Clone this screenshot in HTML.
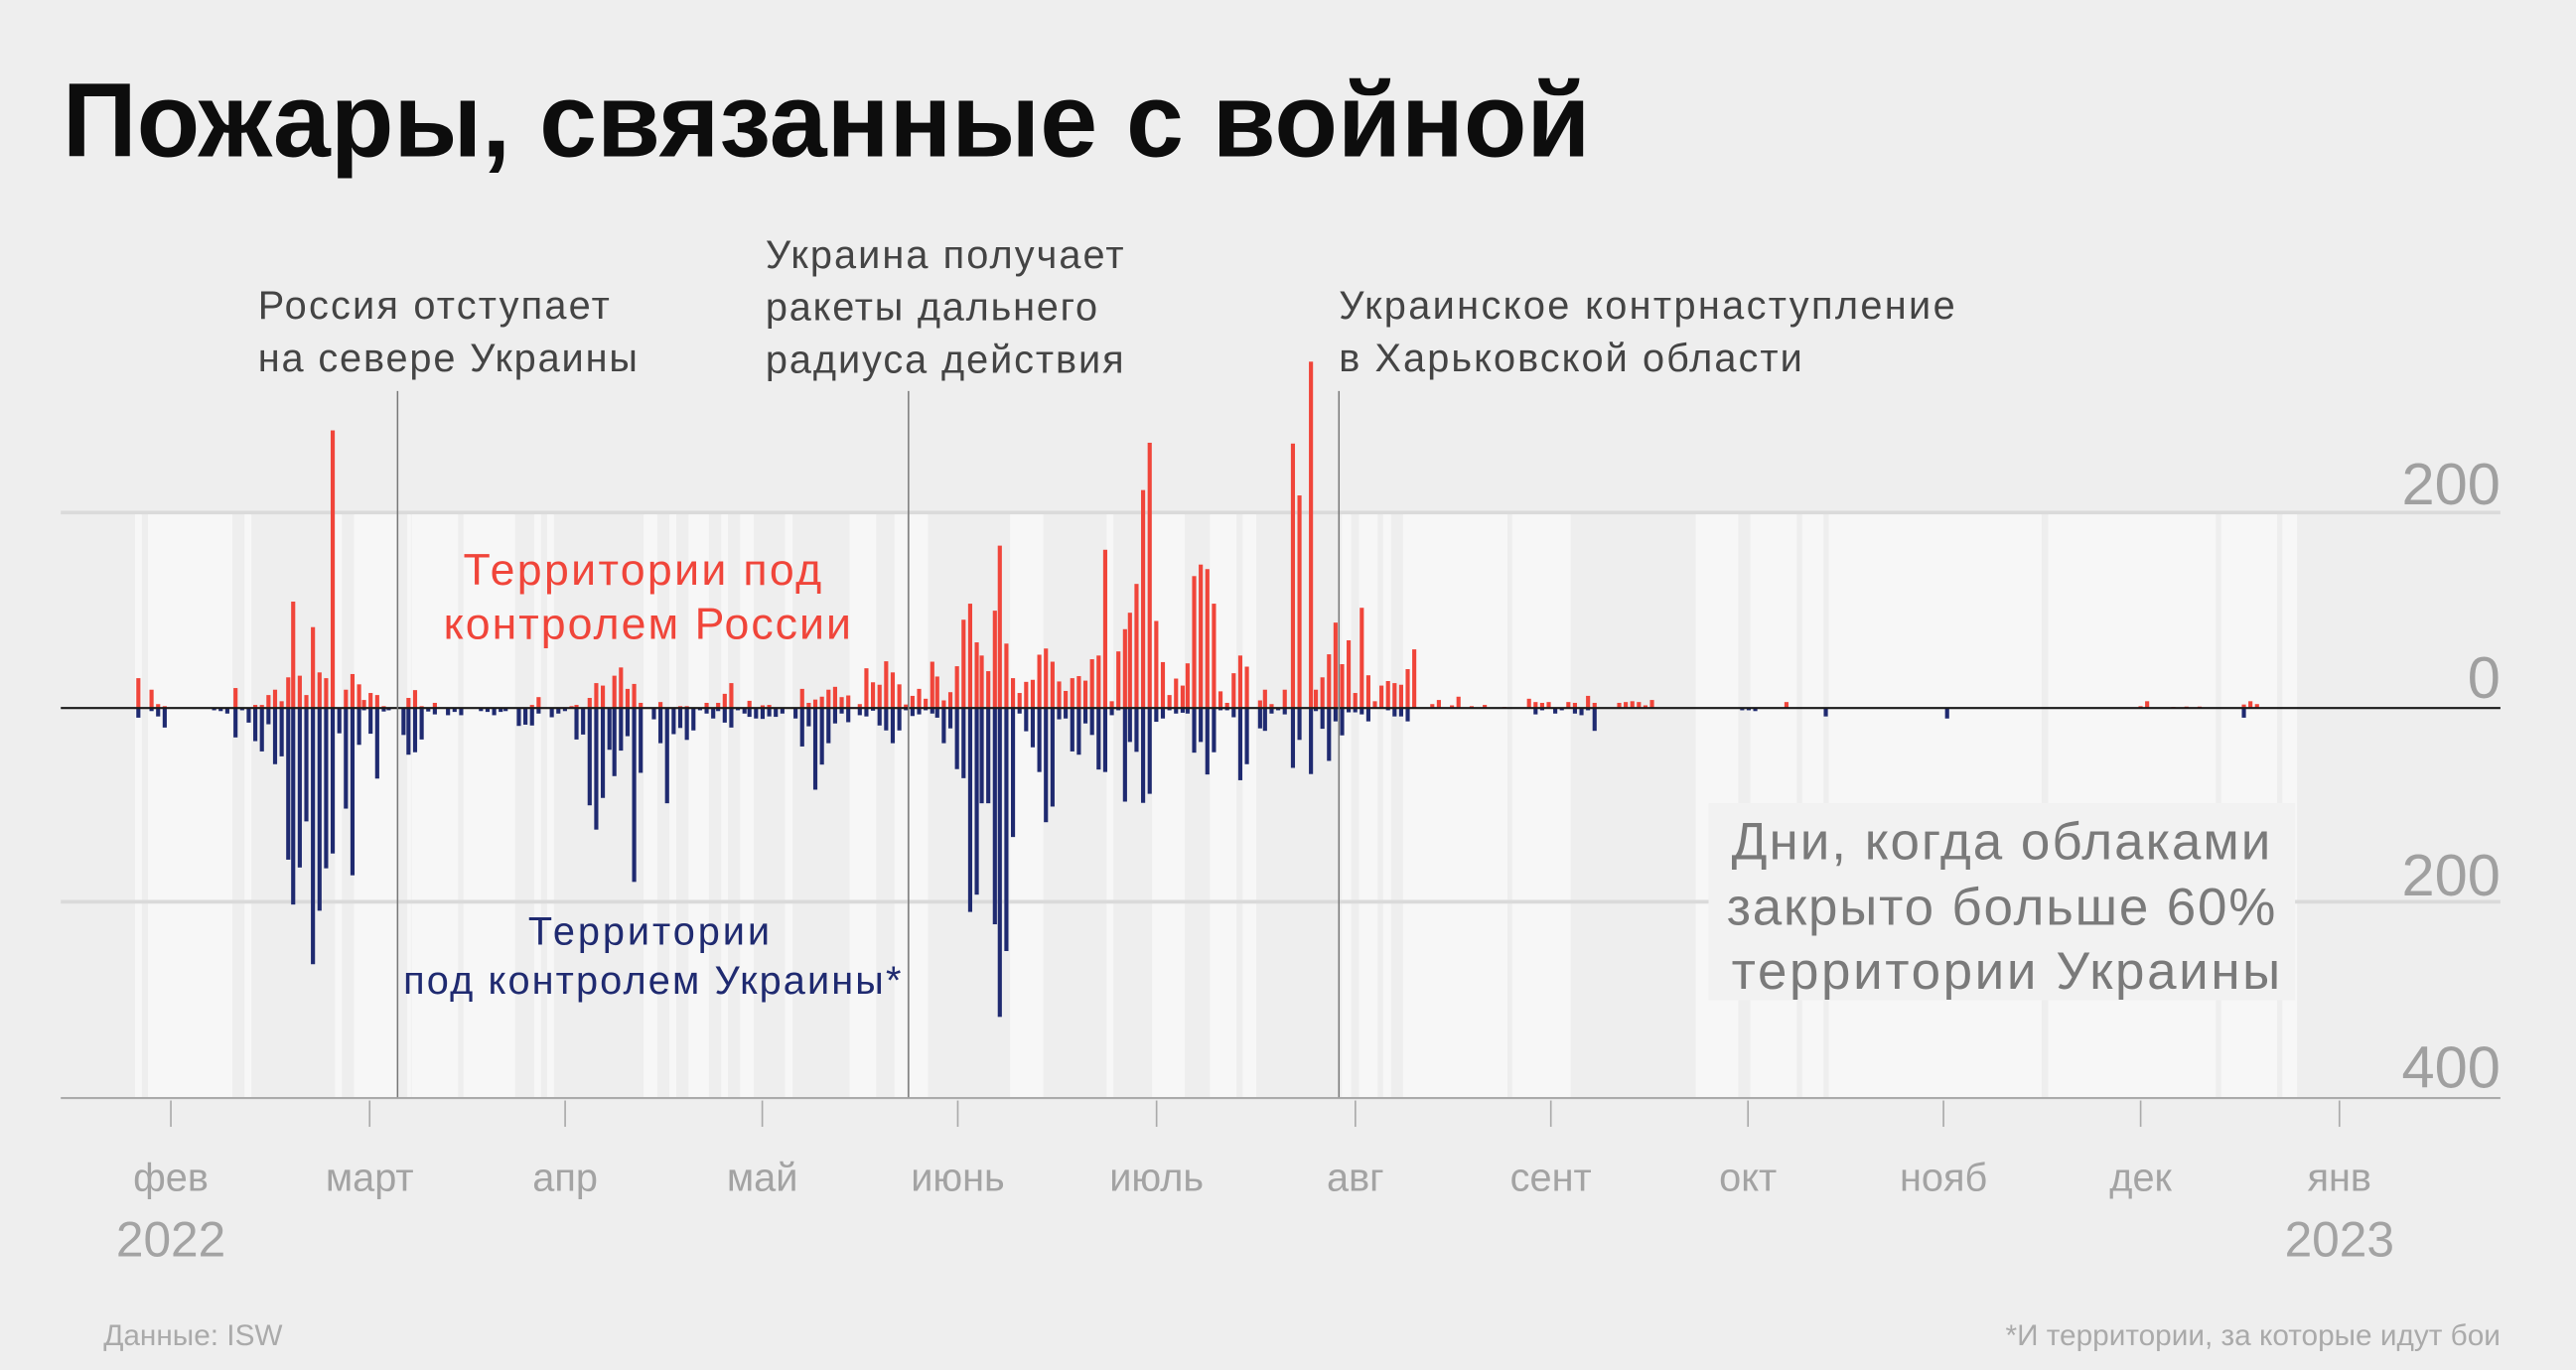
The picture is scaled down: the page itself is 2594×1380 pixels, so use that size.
<!DOCTYPE html>
<html><head><meta charset="utf-8"><style>
html,body{margin:0;padding:0;background:#eeeeee;}
svg{display:block;}
text{font-family:"Liberation Sans","DejaVu Sans",sans-serif;}
</style></head><body>
<svg width="2594" height="1380" viewBox="0 0 1568 834" xmlns="http://www.w3.org/2000/svg">
<rect x="0" y="0" width="1568" height="834" fill="#eeeeee"/>
<!-- light bands -->
<g transform="translate(60.46,0) scale(0.4627,1)" fill="#f7f7f7">
<rect x="47" y="312" width="9" height="356"/><rect x="64" y="312" width="111" height="356"/><rect x="191" y="312" width="9" height="356"/>
<rect x="310" y="312" width="9" height="356"/><rect x="335" y="312" width="56" height="356"/><rect x="405" y="312" width="5" height="356"/>
<rect x="411" y="312" width="61" height="356"/><rect x="479" y="312" width="68" height="356"/><rect x="572" y="312" width="9" height="356"/>
<rect x="589" y="312" width="9" height="356"/><rect x="716" y="312" width="18" height="356"/><rect x="750" y="312" width="9" height="356"/>
<rect x="775" y="312" width="27" height="356"/><rect x="818" y="312" width="9" height="356"/><rect x="843" y="312" width="18" height="356"/>
<rect x="902" y="312" width="10" height="356"/><rect x="987" y="312" width="35" height="356"/><rect x="1046" y="312" width="16" height="356"/>
<rect x="1066" y="312" width="24" height="356"/><rect x="1198" y="312" width="44" height="356"/><rect x="1325" y="312" width="9" height="356"/>
<rect x="1385" y="312" width="43" height="356"/><rect x="1461" y="312" width="35" height="356"/><rect x="1504" y="312" width="18" height="356"/>
</g>
<g transform="translate(786,0) scale(0.4049,1)" fill="#f7f7f7">
<rect x="76" y="312" width="14" height="356"/><rect x="102" y="312" width="28" height="356"/><rect x="138" y="312" width="12" height="356"/>
<rect x="168" y="312" width="157" height="356"/><rect x="332" y="312" width="88" height="356"/><rect x="608" y="312" width="64" height="356"/>
<rect x="690" y="312" width="70" height="356"/><rect x="768" y="312" width="32" height="356"/><rect x="808" y="312" width="320" height="356"/>
<rect x="1138" y="312" width="252" height="356"/><rect x="1398" y="312" width="84" height="356"/><rect x="1490" y="312" width="22" height="356"/>
</g>
<!-- gridlines -->
<g stroke="#dadada" stroke-width="2.2">
<line x1="37" y1="312" x2="1522" y2="312"/>
<line x1="37" y1="549" x2="1522" y2="549"/>
</g>
<line x1="37" y1="668.5" x2="1522" y2="668.5" stroke="#aaaaaa" stroke-width="1.3"/>
<g stroke="#aaaaaa" stroke-width="1">
<line x1="104" y1="670" x2="104" y2="686"/><line x1="225" y1="670" x2="225" y2="686"/><line x1="344" y1="670" x2="344" y2="686"/>
<line x1="464" y1="670" x2="464" y2="686"/><line x1="583" y1="670" x2="583" y2="686"/><line x1="704" y1="670" x2="704" y2="686"/>
<line x1="825" y1="670" x2="825" y2="686"/><line x1="944" y1="670" x2="944" y2="686"/><line x1="1064" y1="670" x2="1064" y2="686"/>
<line x1="1183" y1="670" x2="1183" y2="686"/><line x1="1303" y1="670" x2="1303" y2="686"/><line x1="1424" y1="670" x2="1424" y2="686"/>
</g>
<!-- bars part 1 -->
<g transform="translate(0,272) scale(0.5013,0.2506)">
<g fill="#f0453a">
<rect x="165.5" y="562" width="5" height="72"/><rect x="181.5" y="590" width="5" height="44"/><rect x="189.5" y="625" width="5" height="9"/><rect x="197.5" y="630" width="5" height="4"/>
<rect x="283.5" y="586" width="5" height="48"/><rect x="307.5" y="627" width="5" height="7"/><rect x="315.5" y="627" width="5" height="7"/><rect x="323.5" y="603" width="5" height="31"/>
<rect x="331.5" y="590" width="5" height="44"/><rect x="339.5" y="618" width="5" height="16"/><rect x="347.5" y="560" width="5" height="74"/><rect x="353.5" y="376" width="5" height="258"/>
<rect x="361.5" y="556" width="5" height="78"/><rect x="369.5" y="603" width="5" height="31"/><rect x="377.5" y="438" width="5" height="196"/><rect x="385.5" y="548" width="5" height="86"/>
<rect x="393.5" y="562" width="5" height="72"/><rect x="401.5" y="-40" width="5" height="674"/><rect x="417.5" y="590" width="5" height="44"/><rect x="425.5" y="552" width="5" height="82"/>
<rect x="433.5" y="577" width="5" height="57"/><rect x="439.5" y="615" width="5" height="19"/><rect x="447.5" y="598" width="5" height="36"/><rect x="455.5" y="603" width="5" height="31"/>
<rect x="463.5" y="630" width="5" height="4"/><rect x="493.5" y="610" width="5" height="24"/><rect x="501.5" y="591" width="5" height="43"/><rect x="509.5" y="630" width="5" height="4"/>
<rect x="525.5" y="622" width="5" height="12"/><rect x="643.5" y="627" width="5" height="7"/><rect x="651.5" y="608" width="5" height="26"/><rect x="691.5" y="630" width="5" height="4"/>
<rect x="697.5" y="627" width="5" height="7"/><rect x="713.5" y="610" width="5" height="24"/><rect x="721.5" y="574" width="5" height="60"/><rect x="729.5" y="580" width="5" height="54"/>
<rect x="743.5" y="556" width="5" height="78"/><rect x="751.5" y="536" width="5" height="98"/><rect x="759.5" y="588" width="5" height="46"/><rect x="767.5" y="576" width="5" height="58"/>
<rect x="775.5" y="622" width="5" height="12"/><rect x="799.5" y="620" width="5" height="14"/><rect x="823.5" y="630" width="5" height="4"/><rect x="831.5" y="630" width="5" height="4"/>
<rect x="855.5" y="622" width="5" height="12"/><rect x="869.5" y="622" width="5" height="12"/><rect x="877.5" y="600" width="5" height="34"/><rect x="885.5" y="574" width="5" height="60"/>
<rect x="907.5" y="617" width="5" height="17"/><rect x="923.5" y="628" width="5" height="6"/><rect x="931.5" y="627" width="5" height="7"/><rect x="971.5" y="588" width="5" height="46"/>
<rect x="979.5" y="622" width="5" height="12"/><rect x="987.5" y="614" width="5" height="20"/><rect x="995.5" y="607" width="5" height="27"/><rect x="1003.5" y="590" width="5" height="44"/>
<rect x="1011.5" y="583" width="5" height="51"/><rect x="1019.5" y="608" width="5" height="26"/><rect x="1027.5" y="604" width="5" height="30"/><rect x="1041.5" y="625" width="5" height="9"/>
<rect x="1049.5" y="538" width="5" height="96"/><rect x="1057.5" y="572" width="5" height="62"/><rect x="1065.5" y="578" width="5" height="56"/><rect x="1073.5" y="521" width="5" height="113"/>
<rect x="1081.5" y="548" width="5" height="86"/><rect x="1089.5" y="577" width="5" height="57"/><rect x="1097.5" y="626" width="5" height="8"/><rect x="1105.5" y="605" width="5" height="29"/>
<rect x="1113.5" y="588" width="5" height="46"/><rect x="1121.5" y="612" width="5" height="22"/><rect x="1129.5" y="522" width="5" height="112"/><rect x="1135.5" y="558" width="5" height="76"/>
<rect x="1143.5" y="616" width="5" height="18"/><rect x="1151.5" y="596" width="5" height="38"/><rect x="1159.5" y="533" width="5" height="101"/><rect x="1167.5" y="420" width="5" height="214"/>
<rect x="1175.5" y="381" width="5" height="253"/><rect x="1183.5" y="475" width="5" height="159"/><rect x="1189.5" y="507" width="5" height="127"/><rect x="1197.5" y="545" width="5" height="89"/>
<rect x="1205.5" y="398" width="5" height="236"/><rect x="1211.5" y="240" width="5" height="394"/><rect x="1219.5" y="478" width="5" height="156"/><rect x="1227.5" y="562" width="5" height="72"/>
<rect x="1235.5" y="598" width="5" height="36"/><rect x="1243.5" y="571" width="5" height="63"/><rect x="1251.5" y="566" width="5" height="68"/><rect x="1259.5" y="505" width="5" height="129"/>
<rect x="1267.5" y="490" width="5" height="144"/><rect x="1275.5" y="522" width="5" height="112"/><rect x="1283.5" y="570" width="5" height="64"/><rect x="1291.5" y="593" width="5" height="41"/>
<rect x="1299.5" y="562" width="5" height="72"/><rect x="1307.5" y="557" width="5" height="77"/><rect x="1315.5" y="568" width="5" height="66"/><rect x="1323.5" y="516" width="5" height="118"/>
<rect x="1331.5" y="507" width="5" height="127"/><rect x="1339.5" y="250" width="5" height="384"/><rect x="1347.5" y="618" width="5" height="16"/><rect x="1355.5" y="497" width="5" height="137"/>
<rect x="1363.5" y="443" width="5" height="191"/><rect x="1369.5" y="403" width="5" height="231"/><rect x="1377.5" y="333" width="5" height="301"/><rect x="1385.5" y="105" width="5" height="529"/>
<rect x="1393.5" y="-10" width="5" height="644"/><rect x="1401.5" y="423" width="5" height="211"/><rect x="1409.5" y="523" width="5" height="111"/><rect x="1417.5" y="603" width="5" height="31"/>
<rect x="1425.5" y="563" width="5" height="71"/><rect x="1433.5" y="580" width="5" height="54"/><rect x="1439.5" y="526" width="5" height="108"/><rect x="1447.5" y="314" width="5" height="320"/>
<rect x="1455.5" y="286" width="5" height="348"/><rect x="1463.5" y="297" width="5" height="337"/><rect x="1471.5" y="381" width="5" height="253"/><rect x="1479.5" y="594" width="5" height="40"/>
<rect x="1487.5" y="622" width="5" height="12"/><rect x="1495.5" y="550" width="5" height="84"/><rect x="1503.5" y="507" width="5" height="127"/><rect x="1511.5" y="534" width="5" height="100"/>
<rect x="1527.5" y="616" width="5" height="18"/><rect x="1533.5" y="590" width="5" height="44"/><rect x="1541.5" y="625" width="5" height="9"/><rect x="1557.5" y="590" width="5" height="44"/>
</g>
<g fill="#1f2a70">
<rect x="165.5" y="634" width="5" height="24"/><rect x="181.5" y="634" width="5" height="8"/><rect x="189.5" y="634" width="5" height="21"/><rect x="197.5" y="634" width="5" height="48"/>
<rect x="257.5" y="634" width="5" height="6"/><rect x="265.5" y="634" width="5" height="8"/><rect x="273.5" y="634" width="5" height="14"/>
<rect x="283.5" y="634" width="5" height="72"/><rect x="291.5" y="634" width="5" height="6"/><rect x="299.5" y="634" width="5" height="36"/><rect x="307.5" y="634" width="5" height="81"/>
<rect x="315.5" y="634" width="5" height="106"/><rect x="323.5" y="634" width="5" height="40"/><rect x="331.5" y="634" width="5" height="137"/><rect x="339.5" y="634" width="5" height="118"/>
<rect x="347.5" y="634" width="5" height="369"/><rect x="353.5" y="634" width="5" height="478"/><rect x="361.5" y="634" width="5" height="388"/><rect x="369.5" y="634" width="5" height="276"/>
<rect x="377.5" y="634" width="5" height="623"/><rect x="385.5" y="634" width="5" height="493"/><rect x="393.5" y="634" width="5" height="390"/><rect x="401.5" y="634" width="5" height="354"/>
<rect x="409.5" y="634" width="5" height="62"/><rect x="417.5" y="634" width="5" height="245"/><rect x="425.5" y="634" width="5" height="407"/><rect x="433.5" y="634" width="5" height="90"/>
<rect x="439.5" y="634" width="5" height="6"/><rect x="447.5" y="634" width="5" height="63"/><rect x="455.5" y="634" width="5" height="172"/><rect x="463.5" y="634" width="5" height="9"/>
<rect x="469.5" y="634" width="5" height="6"/><rect x="487.5" y="634" width="5" height="66"/><rect x="493.5" y="634" width="5" height="114"/><rect x="501.5" y="634" width="5" height="108"/>
<rect x="509.5" y="634" width="5" height="77"/><rect x="517.5" y="634" width="5" height="9"/><rect x="525.5" y="634" width="5" height="16"/><rect x="541.5" y="634" width="5" height="18"/>
<rect x="549.5" y="634" width="5" height="10"/><rect x="557.5" y="634" width="5" height="18"/><rect x="581.5" y="634" width="5" height="8"/><rect x="589.5" y="634" width="5" height="10"/>
<rect x="597.5" y="634" width="5" height="18"/><rect x="605.5" y="634" width="5" height="10"/><rect x="611.5" y="634" width="5" height="8"/><rect x="627.5" y="634" width="5" height="44"/>
<rect x="635.5" y="634" width="5" height="41"/><rect x="643.5" y="634" width="5" height="43"/><rect x="651.5" y="634" width="5" height="14"/><rect x="667.5" y="634" width="5" height="23"/>
<rect x="675.5" y="634" width="5" height="14"/><rect x="683.5" y="634" width="5" height="8"/><rect x="697.5" y="634" width="5" height="77"/><rect x="705.5" y="634" width="5" height="65"/>
<rect x="713.5" y="634" width="5" height="237"/><rect x="721.5" y="634" width="5" height="296"/><rect x="729.5" y="634" width="5" height="219"/><rect x="737.5" y="634" width="5" height="102"/>
<rect x="743.5" y="634" width="5" height="166"/><rect x="751.5" y="634" width="5" height="104"/><rect x="759.5" y="634" width="5" height="69"/><rect x="767.5" y="634" width="5" height="423"/>
<rect x="775.5" y="634" width="5" height="158"/><rect x="791.5" y="634" width="5" height="28"/><rect x="799.5" y="634" width="5" height="86"/><rect x="807.5" y="634" width="5" height="232"/>
<rect x="815.5" y="634" width="5" height="64"/><rect x="823.5" y="634" width="5" height="49"/><rect x="831.5" y="634" width="5" height="78"/><rect x="839.5" y="634" width="5" height="55"/>
<rect x="847.5" y="634" width="5" height="6"/><rect x="855.5" y="634" width="5" height="14"/><rect x="863.5" y="634" width="5" height="26"/><rect x="869.5" y="634" width="5" height="8"/>
<rect x="877.5" y="634" width="5" height="36"/><rect x="885.5" y="634" width="5" height="48"/><rect x="893.5" y="634" width="5" height="6"/><rect x="901.5" y="634" width="5" height="14"/>
<rect x="907.5" y="634" width="5" height="22"/><rect x="915.5" y="634" width="5" height="26"/><rect x="923.5" y="634" width="5" height="27"/><rect x="931.5" y="634" width="5" height="21"/>
<rect x="939.5" y="634" width="5" height="22"/><rect x="947.5" y="634" width="5" height="14"/><rect x="963.5" y="634" width="5" height="26"/><rect x="971.5" y="634" width="5" height="94"/>
<rect x="979.5" y="634" width="5" height="45"/><rect x="987.5" y="634" width="5" height="199"/><rect x="995.5" y="634" width="5" height="138"/><rect x="1003.5" y="634" width="5" height="86"/>
<rect x="1011.5" y="634" width="5" height="38"/><rect x="1019.5" y="634" width="5" height="14"/><rect x="1027.5" y="634" width="5" height="35"/><rect x="1041.5" y="634" width="5" height="18"/>
<rect x="1049.5" y="634" width="5" height="21"/><rect x="1057.5" y="634" width="5" height="7"/><rect x="1065.5" y="634" width="5" height="43"/><rect x="1073.5" y="634" width="5" height="55"/>
<rect x="1081.5" y="634" width="5" height="86"/><rect x="1089.5" y="634" width="5" height="55"/><rect x="1097.5" y="634" width="5" height="6"/><rect x="1105.5" y="634" width="5" height="20"/>
<rect x="1113.5" y="634" width="5" height="16"/><rect x="1121.5" y="634" width="5" height="6"/><rect x="1129.5" y="634" width="5" height="14"/><rect x="1135.5" y="634" width="5" height="24"/>
<rect x="1143.5" y="634" width="5" height="86"/><rect x="1151.5" y="634" width="5" height="50"/><rect x="1159.5" y="634" width="5" height="149"/><rect x="1167.5" y="634" width="5" height="171"/>
<rect x="1175.5" y="634" width="5" height="496"/><rect x="1183.5" y="634" width="5" height="454"/><rect x="1189.5" y="634" width="5" height="232"/><rect x="1197.5" y="634" width="5" height="232"/>
<rect x="1205.5" y="634" width="5" height="526"/><rect x="1211.5" y="634" width="5" height="751"/><rect x="1219.5" y="634" width="5" height="591"/><rect x="1227.5" y="634" width="5" height="314"/>
<rect x="1235.5" y="634" width="5" height="14"/><rect x="1243.5" y="634" width="5" height="57"/><rect x="1251.5" y="634" width="5" height="96"/><rect x="1259.5" y="634" width="5" height="156"/>
<rect x="1267.5" y="634" width="5" height="278"/><rect x="1275.5" y="634" width="5" height="240"/><rect x="1283.5" y="634" width="5" height="28"/><rect x="1291.5" y="634" width="5" height="26"/>
<rect x="1299.5" y="634" width="5" height="106"/><rect x="1307.5" y="634" width="5" height="114"/><rect x="1315.5" y="634" width="5" height="38"/><rect x="1323.5" y="634" width="5" height="66"/>
<rect x="1331.5" y="634" width="5" height="150"/><rect x="1339.5" y="634" width="5" height="156"/><rect x="1347.5" y="634" width="5" height="18"/><rect x="1355.5" y="634" width="5" height="6"/>
<rect x="1363.5" y="634" width="5" height="228"/><rect x="1369.5" y="634" width="5" height="83"/><rect x="1377.5" y="634" width="5" height="107"/><rect x="1385.5" y="634" width="5" height="231"/>
<rect x="1393.5" y="634" width="5" height="209"/><rect x="1401.5" y="634" width="5" height="34"/><rect x="1409.5" y="634" width="5" height="26"/><rect x="1417.5" y="634" width="5" height="6"/>
<rect x="1425.5" y="634" width="5" height="14"/><rect x="1433.5" y="634" width="5" height="12"/><rect x="1439.5" y="634" width="5" height="14"/><rect x="1447.5" y="634" width="5" height="109"/>
<rect x="1455.5" y="634" width="5" height="83"/><rect x="1463.5" y="634" width="5" height="162"/><rect x="1471.5" y="634" width="5" height="108"/><rect x="1479.5" y="634" width="5" height="6"/>
<rect x="1487.5" y="634" width="5" height="6"/><rect x="1495.5" y="634" width="5" height="23"/><rect x="1503.5" y="634" width="5" height="176"/><rect x="1511.5" y="634" width="5" height="137"/>
<rect x="1527.5" y="634" width="5" height="50"/><rect x="1533.5" y="634" width="5" height="56"/><rect x="1541.5" y="634" width="5" height="14"/><rect x="1549.5" y="634" width="5" height="6"/><rect x="1557.5" y="634" width="5" height="16"/>
</g>
</g>
<!-- bars part 2 -->
<g transform="translate(786,272) scale(0.499,0.2506)">
<g fill="#f0453a">
<rect x="-0.5" y="-8" width="5" height="642"/><rect x="7.5" y="118" width="5" height="516"/><rect x="21.5" y="-207" width="5" height="841"/>
<rect x="27.5" y="590" width="5" height="44"/><rect x="35.5" y="560" width="5" height="74"/><rect x="43.5" y="504" width="5" height="130"/><rect x="51.5" y="427" width="5" height="207"/>
<rect x="59.5" y="528" width="5" height="106"/><rect x="67.5" y="470" width="5" height="164"/><rect x="75.5" y="598" width="5" height="36"/><rect x="83.5" y="391" width="5" height="243"/>
<rect x="91.5" y="555" width="5" height="79"/><rect x="99.5" y="618" width="5" height="16"/><rect x="107.5" y="580" width="5" height="54"/><rect x="115.5" y="569" width="5" height="65"/>
<rect x="123.5" y="574" width="5" height="60"/><rect x="131.5" y="578" width="5" height="56"/><rect x="139.5" y="540" width="5" height="94"/><rect x="147.5" y="492" width="5" height="142"/>
<rect x="169.5" y="625" width="5" height="9"/><rect x="177.5" y="615" width="5" height="19"/><rect x="193.5" y="628" width="5" height="6"/><rect x="201.5" y="607" width="5" height="27"/>
<rect x="217.5" y="630" width="5" height="4"/><rect x="233.5" y="627" width="5" height="7"/><rect x="257.5" y="632" width="5" height="2"/>
<rect x="287.5" y="612" width="5" height="22"/><rect x="295.5" y="620" width="5" height="14"/><rect x="303.5" y="622" width="5" height="12"/><rect x="311.5" y="620" width="5" height="14"/>
<rect x="335.5" y="620" width="5" height="14"/><rect x="343.5" y="622" width="5" height="12"/><rect x="359.5" y="605" width="5" height="29"/><rect x="367.5" y="622" width="5" height="12"/>
<rect x="397.5" y="622" width="5" height="12"/><rect x="405.5" y="620" width="5" height="14"/><rect x="413.5" y="618" width="5" height="16"/><rect x="421.5" y="620" width="5" height="14"/>
<rect x="429.5" y="628" width="5" height="6"/><rect x="437.5" y="615" width="5" height="19"/><rect x="601.5" y="620" width="5" height="14"/>
<rect x="1033.5" y="630" width="5" height="4"/><rect x="1041.5" y="618" width="5" height="16"/><rect x="1073.5" y="632" width="5" height="2"/><rect x="1089.5" y="631" width="5" height="3"/><rect x="1105.5" y="631" width="5" height="3"/>
<rect x="1159.5" y="626" width="5" height="8"/><rect x="1167.5" y="618" width="5" height="16"/><rect x="1175.5" y="625" width="5" height="9"/>
</g>
<g fill="#1f2a70">
<rect x="-0.5" y="634" width="5" height="146"/><rect x="7.5" y="634" width="5" height="78"/><rect x="21.5" y="634" width="5" height="161"/>
<rect x="27.5" y="634" width="5" height="8"/><rect x="35.5" y="634" width="5" height="51"/><rect x="43.5" y="634" width="5" height="129"/><rect x="51.5" y="634" width="5" height="33"/>
<rect x="59.5" y="634" width="5" height="67"/><rect x="67.5" y="634" width="5" height="11"/><rect x="75.5" y="634" width="5" height="11"/><rect x="83.5" y="634" width="5" height="16"/>
<rect x="91.5" y="634" width="5" height="33"/><rect x="115.5" y="634" width="5" height="6"/><rect x="123.5" y="634" width="5" height="21"/><rect x="131.5" y="634" width="5" height="21"/>
<rect x="139.5" y="634" width="5" height="33"/><rect x="295.5" y="634" width="5" height="16"/><rect x="303.5" y="634" width="5" height="6"/><rect x="319.5" y="634" width="5" height="14"/>
<rect x="327.5" y="634" width="5" height="6"/><rect x="343.5" y="634" width="5" height="14"/><rect x="351.5" y="634" width="5" height="18"/><rect x="359.5" y="634" width="5" height="6"/>
<rect x="367.5" y="634" width="5" height="56"/><rect x="547.5" y="634" width="5" height="6"/><rect x="555.5" y="634" width="5" height="6"/><rect x="563.5" y="634" width="5" height="8"/>
<rect x="649.5" y="634" width="5" height="21"/><rect x="797.5" y="634" width="5" height="26"/><rect x="1159.5" y="634" width="5" height="24"/>
</g>
</g>
<line x1="37" y1="431" x2="1522" y2="431" stroke="#1a1a1a" stroke-width="1.3"/>
<!-- annotation lines -->
<g stroke="#777" stroke-width="0.9">
<line x1="242" y1="238" x2="242" y2="668"/>
<line x1="553" y1="238" x2="553" y2="668"/>
<line x1="815" y1="238" x2="815" y2="668"/>
</g>
<!-- cloud box -->
<rect x="1040" y="489" width="357" height="120" fill="#f2f2f2"/>
<g fill="#7a7a7a" font-size="32" text-anchor="middle">
<text x="1218" y="523" textLength="328">Дни, когда облаками</text>
<text x="1218" y="563" textLength="334">закрыто больше 60%</text>
<text x="1221" y="602" textLength="334">территории Украины</text>
</g>
<!-- title -->
<text x="38" y="95" font-size="64" font-weight="bold" fill="#0d0d0d" textLength="930" lengthAdjust="spacingAndGlyphs">Пожары, связанные с войной</text>
<!-- annotations -->
<g fill="#444" font-size="24">
<text x="157" y="194" textLength="214">Россия отступает</text>
<text x="157" y="226" textLength="231">на севере Украины</text>
<text x="466" y="163" textLength="218">Украина получает</text>
<text x="466" y="195" textLength="202">ракеты дальнего</text>
<text x="466" y="227" textLength="218">радиуса действия</text>
<text x="815" y="194" textLength="375">Украинское контрнаступление</text>
<text x="815" y="226" textLength="282">в Харьковской области</text>
</g>
<g fill="#f0453a" font-size="27" text-anchor="middle">
<text x="391" y="356" textLength="218">Территории под</text>
<text x="394" y="389" textLength="248">контролем России</text>
</g>
<g fill="#1f2a70" font-size="24" text-anchor="middle">
<text x="395" y="575" textLength="147">Территории</text>
<text x="397" y="605" textLength="303">под контролем Украины*</text>
</g>
<!-- y labels -->
<g fill="#a0a0a0" font-size="36" text-anchor="end">
<text x="1522" y="307">200</text>
<text x="1522" y="425">0</text>
<text x="1522" y="545">200</text>
<text x="1522" y="662">400</text>
</g>
<!-- x labels -->
<g fill="#a3a3a3" font-size="24" text-anchor="middle">
<text x="104" y="725">фев</text><text x="225" y="725">март</text><text x="344" y="725">апр</text>
<text x="464" y="725">май</text><text x="583" y="725">июнь</text><text x="704" y="725">июль</text>
<text x="825" y="725">авг</text><text x="944" y="725">сент</text><text x="1064" y="725">окт</text>
<text x="1183" y="725">нояб</text><text x="1303" y="725">дек</text><text x="1424" y="725">янв</text>
</g>
<g fill="#a3a3a3" font-size="30" text-anchor="middle">
<text x="104" y="765">2022</text><text x="1424" y="765">2023</text>
</g>
<text x="63" y="819" fill="#aaaaaa" font-size="18">Данные: ISW</text>
<text x="1522" y="819" fill="#aaaaaa" font-size="18" text-anchor="end">*И территории, за которые идут бои</text>
</svg>
</body></html>
